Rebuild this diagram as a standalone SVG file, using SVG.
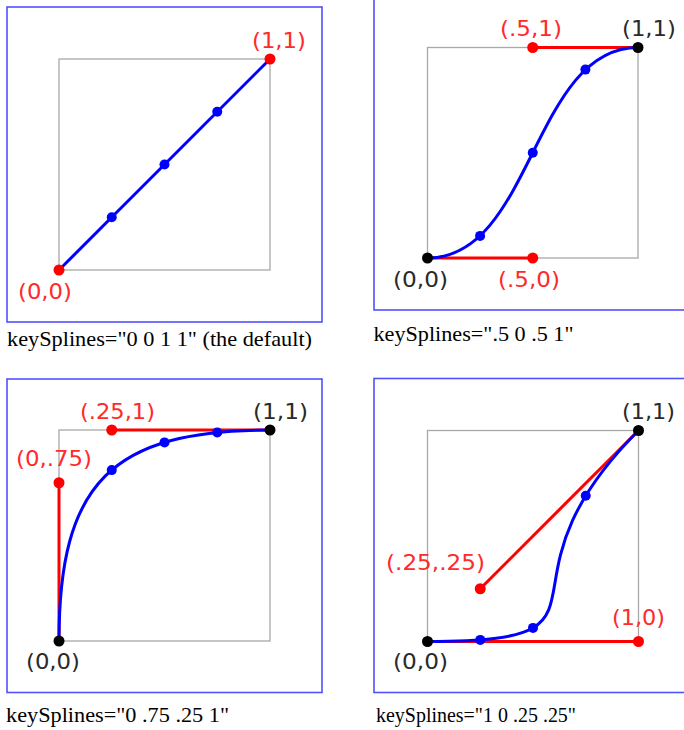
<svg xmlns="http://www.w3.org/2000/svg" width="684" height="730" viewBox="0 0 684 730">
<style>
  .frame { fill: none; stroke: #5050ff; stroke-width: 1.6; }
  .grid { fill: none; stroke: #a8a8a8; stroke-width: 1.3; }
  .curve { fill: none; stroke: #0000ff; stroke-width: 3; }
  .ctrl { fill: none; stroke: #ff0000; stroke-width: 3; }
  .bdot { fill: #0000ff; }
  .rdot { fill: #ff0000; }
  .kdot { fill: #000000; }
  .lbl { font-family: "DejaVu Sans", Verdana, sans-serif; font-size: 21px; }
  .red { fill: #ff2a2a; }
  .blk { fill: #2a2a2a; }
  .cap { font-family: "Liberation Serif", "Times New Roman", serif; font-size: 22px; fill: #000; }
</style>
<rect width="684" height="730" fill="#ffffff"/>

<g id="panel1">
  <rect class="frame" x="7" y="7" width="315" height="315"/>
  <rect class="grid" x="59" y="59" width="211" height="211"/>
  <g class="connectors">
    <path class="curve" d="M59,270 L270,59"/>
  </g>
  <circle class="bdot" cx="111.75" cy="217.25" r="5"/>
  <circle class="bdot" cx="164.5" cy="164.5" r="5"/>
  <circle class="bdot" cx="217.25" cy="111.75" r="5"/>
  <circle class="rdot" cx="59" cy="270" r="5.5"/>
  <circle class="rdot" cx="270" cy="59" r="5.5"/>
  <text class="lbl red" x="252" y="48" textLength="54" lengthAdjust="spacingAndGlyphs">(1,1)</text>
  <text class="lbl red" x="18" y="298.5" textLength="54" lengthAdjust="spacingAndGlyphs">(0,0)</text>
  <text class="cap" x="7" y="346" textLength="305" lengthAdjust="spacingAndGlyphs">keySplines="0 0 1 1" (the default)</text>
</g>

<g id="panel2">
  <rect class="frame" x="374" y="-10" width="330" height="320"/>
  <rect class="grid" x="427.5" y="47.5" width="210.5" height="210.5"/>
  <g class="connectors">
    <path class="ctrl" d="M427.5,258 L532.75,258 M532.75,47.5 L638,47.5"/>
    <path class="curve" d="M427.5,258 C532.75,258 532.75,47.5 638,47.5"/>
  </g>
  <circle class="bdot" cx="480.1" cy="235.9" r="5"/>
  <circle class="bdot" cx="532.75" cy="152.75" r="5"/>
  <circle class="bdot" cx="585.4" cy="69.6" r="5"/>
  <circle class="rdot" cx="532.75" cy="258" r="5.5"/>
  <circle class="rdot" cx="532.75" cy="47.5" r="5.5"/>
  <circle class="kdot" cx="427.5" cy="258" r="5.5"/>
  <circle class="kdot" cx="638" cy="47.5" r="5.5"/>
  <text class="lbl red" x="500" y="35.5" textLength="62" lengthAdjust="spacingAndGlyphs">(.5,1)</text>
  <text class="lbl blk" x="622" y="35.5" textLength="54" lengthAdjust="spacingAndGlyphs">(1,1)</text>
  <text class="lbl blk" x="393" y="287" textLength="55" lengthAdjust="spacingAndGlyphs">(0,0)</text>
  <text class="lbl red" x="498" y="287" textLength="62" lengthAdjust="spacingAndGlyphs">(.5,0)</text>
  <text class="cap" x="373.5" y="341" textLength="200" lengthAdjust="spacingAndGlyphs">keySplines=".5 0 .5 1"</text>
</g>

<g id="panel3">
  <rect class="frame" x="7" y="379" width="315" height="313.5"/>
  <rect class="grid" x="59" y="430" width="211" height="211"/>
  <g class="connectors">
    <path class="ctrl" d="M59,641 L59,482.75 M111.75,430 L270,430"/>
    <path class="curve" d="M59,641 C59,482.75 111.75,430 270,430"/>
  </g>
  <circle class="bdot" cx="111.75" cy="470.1" r="5"/>
  <circle class="bdot" cx="164.5" cy="442.4" r="5"/>
  <circle class="bdot" cx="217.25" cy="432.4" r="5"/>
  <circle class="rdot" cx="59" cy="482.75" r="5.5"/>
  <circle class="rdot" cx="111.75" cy="430" r="5.5"/>
  <circle class="kdot" cx="59" cy="641" r="5.5"/>
  <circle class="kdot" cx="270" cy="430" r="5.5"/>
  <text class="lbl red" x="80" y="419" textLength="75" lengthAdjust="spacingAndGlyphs">(.25,1)</text>
  <text class="lbl blk" x="253" y="419" textLength="55" lengthAdjust="spacingAndGlyphs">(1,1)</text>
  <text class="lbl red" x="16" y="466" textLength="76" lengthAdjust="spacingAndGlyphs">(0,.75)</text>
  <text class="lbl blk" x="26" y="669" textLength="54" lengthAdjust="spacingAndGlyphs">(0,0)</text>
  <text class="cap" x="6" y="722" textLength="223" lengthAdjust="spacingAndGlyphs">keySplines="0 .75 .25 1"</text>
</g>

<g id="panel4">
  <rect class="frame" x="374" y="378.5" width="330" height="314"/>
  <rect class="grid" x="427.5" y="430.5" width="211" height="211"/>
  <g class="connectors">
    <path class="ctrl" d="M427.5,641.5 L638.5,641.5 M638.5,430.5 L480.25,588.75"/>
    <path class="curve" d="M427.5,641.5 C638.5,641.5 480.25,588.75 638.5,430.5"/>
  </g>
  <circle class="bdot" cx="480.25" cy="639.9" r="5"/>
  <circle class="bdot" cx="533" cy="627.9" r="5"/>
  <circle class="bdot" cx="585.75" cy="495.7" r="5"/>
  <circle class="rdot" cx="480.25" cy="588.75" r="5.5"/>
  <circle class="rdot" cx="638.5" cy="641.5" r="5.5"/>
  <circle class="kdot" cx="427.5" cy="641.5" r="5.5"/>
  <circle class="kdot" cx="638.5" cy="430.5" r="5.5"/>
  <text class="lbl blk" x="622" y="419" textLength="53" lengthAdjust="spacingAndGlyphs">(1,1)</text>
  <text class="lbl red" x="386" y="570" textLength="99" lengthAdjust="spacingAndGlyphs">(.25,.25)</text>
  <text class="lbl red" x="612" y="625" textLength="53" lengthAdjust="spacingAndGlyphs">(1,0)</text>
  <text class="lbl blk" x="393" y="669" textLength="55" lengthAdjust="spacingAndGlyphs">(0,0)</text>
  <text class="cap" x="376" y="722" textLength="200" lengthAdjust="spacingAndGlyphs">keySplines="1 0 .25 .25"</text>
</g>
</svg>
